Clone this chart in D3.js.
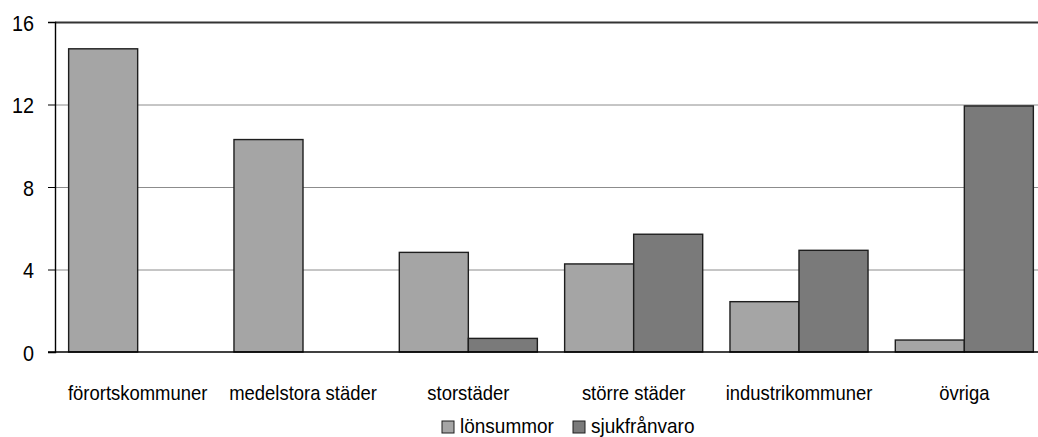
<!DOCTYPE html>
<html>
<head>
<meta charset="utf-8">
<script src="https://cdn.jsdelivr.net/npm/d3@7"></script>
<style>
  html, body { margin: 0; padding: 0; background: #fff; }
  svg { display: block; overflow: hidden; }
  text { font-family: "Liberation Sans", Arial, sans-serif; fill: #000; }
</style>
</head>
<body>
<svg id="chart" width="1038" height="437"></svg>
<script>
// Category labels along the x axis
const categories = ["förortskommuner", "medelstora städer", "storstäder", "större städer", "industrikommuner", "övriga"];
// Series values
const lonsummor = [14.7, 10.3, 4.83, 4.27, 2.44, 0.58];
const sjukfranvaro = [0, 0, 0.66, 5.71, 4.93, 11.93];
// Series names and y ticks
const seriesNames = ["lönsummor", "sjukfrånvaro"];
const yTicks = [0, 4, 8, 12, 16];

const series = [
  { name: seriesNames[0], values: lonsummor, color: "#a5a5a5" },
  { name: seriesNames[1], values: sjukfranvaro, color: "#7a7a7a" }
];

const svg = d3.select("#chart");
const plotLeft = 55, plotRight = 1047, plotTop = 22, plotBottom = 352;

const x = d3.scaleBand().domain(categories).range([plotLeft, plotRight])
  .paddingInner(0.165).paddingOuter(0.0825);
const xs = d3.scaleBand().domain(seriesNames).range([0, x.bandwidth()]);
const y = d3.scaleLinear().domain([0, 16]).range([plotBottom, plotTop]);

// Horizontal gridlines
svg.append("g").selectAll("line")
  .data(yTicks.filter(t => t > 0 && t < 16))
  .join("line")
  .attr("x1", plotLeft).attr("x2", plotRight)
  .attr("y1", d => y(d) + 0.5).attr("y2", d => y(d) + 0.5)
  .attr("stroke", "#8c8c8c").attr("stroke-width", 1);

// Top border of the plot
svg.append("line")
  .attr("x1", plotLeft).attr("x2", plotRight)
  .attr("y1", y(16) + 0.5).attr("y2", y(16) + 0.5)
  .attr("stroke", "#333").attr("stroke-width", 1.8);

// Bars
const groups = svg.append("g").selectAll("g")
  .data(categories)
  .join("g")
  .attr("transform", d => `translate(${x(d)},0)`);

groups.selectAll("rect")
  .data((c, i) => series.map(s => ({ name: s.name, v: s.values[i], color: s.color })).filter(d => d.v > 0))
  .join("rect")
  .attr("x", d => xs(d.name))
  .attr("width", xs.bandwidth())
  .attr("y", d => y(d.v))
  .attr("height", d => y(0) - y(d.v))
  .attr("fill", d => d.color)
  .attr("stroke", "#1e1e1e")
  .attr("stroke-width", 1.4);

// Y axis
const yAxis = d3.axisLeft(y).tickValues(yTicks).tickSize(7).tickPadding(14);
const gy = svg.append("g").attr("transform", `translate(${plotLeft},0)`).call(yAxis);
gy.select(".domain").attr("stroke", "#000").attr("stroke-width", 1.4);
gy.selectAll(".tick line").attr("stroke", "#000");
gy.selectAll(".tick text")
  .attr("font-size", 22.5)
  .attr("font-family", "Liberation Sans, Arial, sans-serif")
  .attr("fill", "#000")
  .attr("x", null).attr("dy", null)
  .attr("text-anchor", "end")
  .attr("transform", "translate(-21,8) scale(0.88,1)");

// X axis baseline
svg.append("line")
  .attr("x1", plotLeft - 7).attr("x2", plotRight)
  .attr("y1", plotBottom).attr("y2", plotBottom)
  .attr("stroke", "#000").attr("stroke-width", 1.6);

// Category labels
svg.append("g").selectAll("text")
  .data(categories)
  .join("text")
  .attr("text-anchor", "middle")
  .attr("font-size", 20.5)
  .attr("transform", d => `translate(${x(d) + x.bandwidth() / 2},400) scale(0.9,1)`)
  .text(d => d);

// Legend
const legendX = [442, 573];
const legend = svg.append("g").selectAll("g")
  .data(series)
  .join("g")
  .attr("transform", (d, i) => `translate(${legendX[i]},421)`);
legend.append("rect")
  .attr("width", 12).attr("height", 12)
  .attr("fill", d => d.color)
  .attr("stroke", "#1e1e1e").attr("stroke-width", 1);
legend.append("text")
  .attr("font-size", 20)
  .attr("transform", "translate(18,12) scale(0.95,1)")
  .text(d => d.name);
</script>
</body>
</html>
